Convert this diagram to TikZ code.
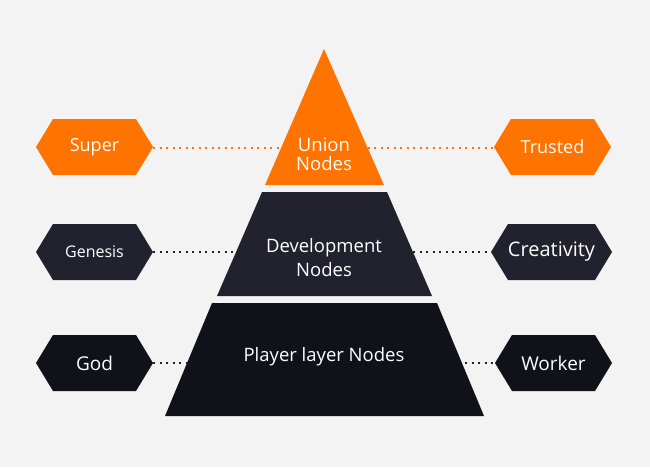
\documentclass[tikz,border=0pt]{standalone}
\usepackage{fontspec}
\setmainfont{Open Sans}
\usetikzlibrary{shapes.symbols}
\definecolor{bgc}{HTML}{F3F3F3}
\definecolor{accent}{HTML}{FF7300}
\definecolor{midnight}{HTML}{22222E}
\definecolor{deepnight}{HTML}{11111A}
\pgfdeclarelayer{canvas}
\pgfdeclarelayer{background}
\pgfsetlayers{canvas,background,main}
\tikzset{
  hexbox/.style={shape=signal, signal to=west and east, signal pointer angle=117.5,
    minimum width=117pt, minimum height=56pt, inner sep=0pt, text=white},
  tier/.style={text=white, align=center, font=\fontsize{18.5}{24}\selectfont},
  dotline/.style={line width=1.8pt, dash pattern=on 2.2pt off 4.3pt},
}
\begin{document}
\begin{tikzpicture}[x=1pt, y=-1pt]
\begin{pgfonlayer}{canvas}
  \fill[bgc] (0,0) rectangle (650,467);
\end{pgfonlayer}
\useasboundingbox (0,0) rectangle (650,467);

% side tags
\node[hexbox, fill=accent, font=\fontsize{18}{20}\selectfont] (super) at (94.5,147) {Super};
\node[hexbox, fill=accent, font=\fontsize{18}{20}\selectfont] (trusted) at (552.5,147) {Trusted};
\node[hexbox, fill=midnight, font=\fontsize{16}{18}\selectfont] (genesis) at (94.5,252) {Genesis};
\node[hexbox, fill=midnight, font=\fontsize{20}{22}\selectfont] (creativity) at (551.5,252) {Creativity};
\node[hexbox, fill=deepnight, font=\fontsize{19}{21}\selectfont] (god) at (94.5,363) {God};
\node[hexbox, fill=deepnight, font=\fontsize{19}{21}\selectfont] (worker) at (553.5,363) {Worker};

% pyramid tiers
\fill[accent] (324,49) -- (384,185) -- (265,185) -- cycle;
\fill[midnight] (262,192) -- (387,192) -- (432,296) -- (217,296) -- cycle;
\fill[deepnight] (212,303) -- (437,303) -- (484,416) -- (165,416) -- cycle;

\node[tier, font=\fontsize{18.5}{19}\selectfont] (union) at (324,154) {Union\\Nodes};
\node[tier] (develop) at (324,258) {Development\\Nodes};
\node[tier] (player) at (324,357) {Player layer Nodes};

% dotted links, hidden behind the pyramid
\begin{pgfonlayer}{background}
  \draw[dotline, accent] ([yshift=-1pt]super.east) -- ([yshift=-1pt]trusted.west);
  \draw[dotline, midnight] (genesis.east) -- (creativity.west);
  \draw[dotline, midnight] (god.east) -- (worker.west);
\end{pgfonlayer}
\end{tikzpicture}
\end{document}
